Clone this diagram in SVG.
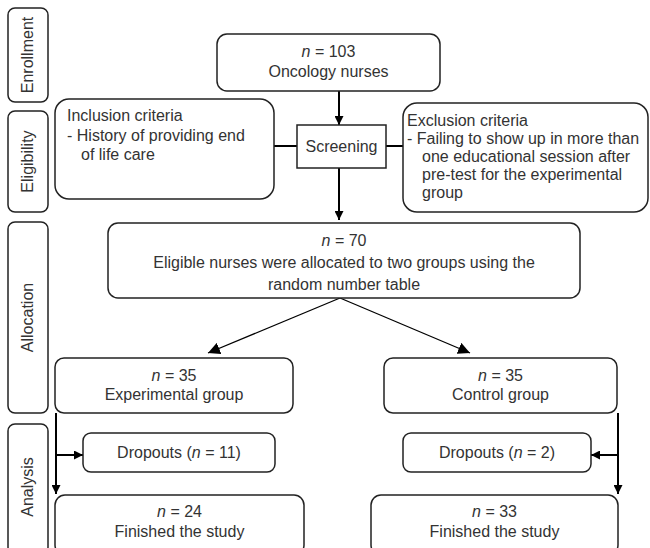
<svg xmlns="http://www.w3.org/2000/svg" width="650" height="548" viewBox="0 0 650 548">
<defs>
<style>
.b{fill:#fff;stroke:#222;stroke-width:1.5}
.t{font-family:"Liberation Sans",Arial,sans-serif;font-size:16px;fill:#333}
.c{text-anchor:middle}
.l{stroke:#000;stroke-width:2;fill:none}
.s{stroke:#000;stroke-width:1.3;fill:none}
</style>
<marker id="ah" viewBox="0 0 10 10" refX="10" refY="5" markerWidth="9" markerHeight="9" markerUnits="userSpaceOnUse" orient="auto"><path d="M0,0L10,5L0,10z" fill="#000"/></marker>
<marker id="ah2" viewBox="0 0 10 10" refX="10" refY="5" markerWidth="12" markerHeight="12" markerUnits="userSpaceOnUse" orient="auto"><path d="M0,0L10,5L0,10z" fill="#000"/></marker>
</defs>
<g id="stages">
<g id="stage-enrollment"><rect class="b" x="8" y="8" width="40" height="94" rx="7"/><text class="t c" transform="translate(33,55) rotate(-90)">Enrollment</text></g>
<g id="stage-eligibility"><rect class="b" x="8" y="111" width="40" height="101" rx="7"/><text class="t c" transform="translate(33,161.5) rotate(-90)">Eligibility</text></g>
<g id="stage-allocation"><rect class="b" x="8" y="222" width="40" height="191" rx="7"/><text class="t c" transform="translate(33,317.5) rotate(-90)">Allocation</text></g>
<g id="stage-analysis"><rect class="b" x="8" y="424" width="40" height="130" rx="7"/><text class="t c" transform="translate(33,487) rotate(-90)">Analysis</text></g>
</g>
<g id="connectors">
<line class="l" x1="339" y1="91" x2="339" y2="125" marker-end="url(#ah)"/>
<line class="l" x1="274" y1="146" x2="297" y2="146"/>
<line class="l" x1="386" y1="146" x2="403" y2="146"/>
<line class="l" x1="339" y1="168" x2="339" y2="220" marker-end="url(#ah)"/>
<line class="s" x1="340" y1="298" x2="208" y2="353" marker-end="url(#ah2)"/>
<line class="s" x1="340" y1="298" x2="470" y2="353" marker-end="url(#ah2)"/>
<line class="l" x1="56" y1="413" x2="56" y2="494" marker-end="url(#ah)"/>
<line class="l" x1="56" y1="455" x2="83" y2="455" marker-end="url(#ah)"/>
<line class="l" x1="618" y1="413" x2="618" y2="494" marker-end="url(#ah)"/>
<line class="l" x1="618" y1="455" x2="591" y2="455" marker-end="url(#ah)"/>
</g>
<g id="n103"><rect class="b" x="217" y="34" width="223" height="57" rx="10"/><text class="t c" x="328.5" y="57"><tspan font-style="italic">n</tspan> = 103</text><text class="t c" x="328.5" y="77">Oncology nurses</text></g>
<g id="inclusion"><rect class="b" x="55" y="99" width="219" height="100" rx="14"/><text class="t" x="67" y="121">Inclusion criteria</text><text class="t" x="67" y="141">- History of providing end</text><text class="t" x="81" y="160">of life care</text></g>
<g id="screening"><rect class="b" x="297" y="125" width="89" height="43"/><text class="t c" x="341.5" y="152">Screening</text></g>
<g id="exclusion"><rect class="b" x="403" y="103" width="245" height="109" rx="14"/><text class="t" x="407" y="126">Exclusion criteria</text><text class="t" x="407" y="144">- Failing to show up in more than</text><text class="t" x="422" y="162">one educational session after</text><text class="t" x="422" y="180">pre-test for the experimental</text><text class="t" x="422" y="198">group</text></g>
<g id="n70"><rect class="b" x="108" y="223" width="472" height="75" rx="10"/><text class="t c" x="344" y="246"><tspan font-style="italic">n</tspan> = 70</text><text class="t c" x="344" y="268">Eligible nurses were allocated to two groups using the</text><text class="t c" x="344" y="290">random number table</text></g>
<g id="experimental"><rect class="b" x="55" y="358" width="238" height="55" rx="9"/><text class="t c" x="174" y="381"><tspan font-style="italic">n</tspan> = 35</text><text class="t c" x="174" y="400">Experimental group</text></g>
<g id="control"><rect class="b" x="384" y="358" width="233" height="55" rx="9"/><text class="t c" x="500.5" y="381"><tspan font-style="italic">n</tspan> = 35</text><text class="t c" x="500.5" y="400">Control group</text></g>
<g id="dropouts11"><rect class="b" x="83" y="433" width="192" height="39" rx="8"/><text class="t c" x="179" y="458">Dropouts (<tspan font-style="italic">n</tspan> = 11)</text></g>
<g id="dropouts2"><rect class="b" x="403" y="433" width="188" height="39" rx="8"/><text class="t c" x="497" y="458">Dropouts (<tspan font-style="italic">n</tspan> = 2)</text></g>
<g id="finished24"><rect class="b" x="55" y="495" width="249" height="60" rx="10"/><text class="t c" x="179.5" y="517"><tspan font-style="italic">n</tspan> = 24</text><text class="t c" x="179.5" y="537">Finished the study</text></g>
<g id="finished33"><rect class="b" x="371" y="495" width="247" height="60" rx="10"/><text class="t c" x="494.5" y="517"><tspan font-style="italic">n</tspan> = 33</text><text class="t c" x="494.5" y="537">Finished the study</text></g>
</svg>
